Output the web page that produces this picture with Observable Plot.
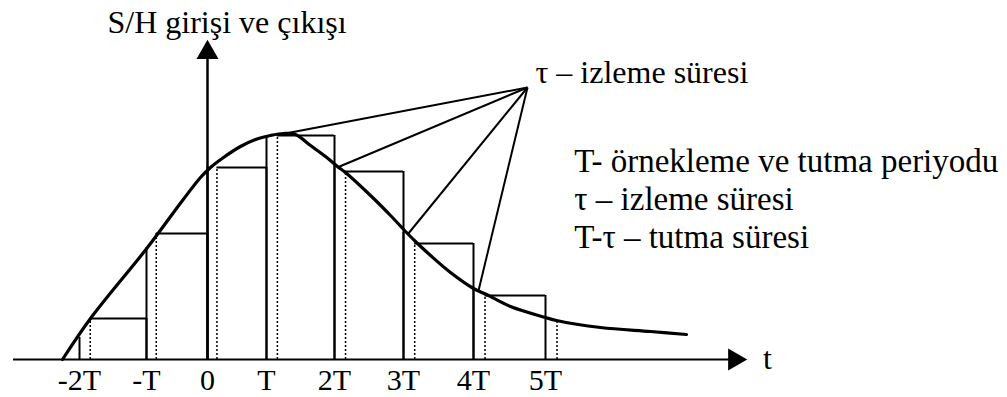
<!DOCTYPE html>
<html>
<head>
<meta charset="utf-8">
<script src="https://cdn.jsdelivr.net/npm/d3@7"></script>
<script src="https://cdn.jsdelivr.net/npm/@observablehq/plot@0.6"></script>
<style>
  html, body { margin: 0; padding: 0; background: #fff; }
  #chart svg { display: block; }
</style>
</head>
<body>
<div id="chart"></div>
<script>
// Sample-and-hold: input signal, tracked/held output, sampling instants in units of T
const samples = [-2, -1, 0, 1, 2, 3, 4, 5];
const sampleLabels = ["-2T", "-T", "0", "T", "2T", "3T", "4T", "5T"];
// input value at each sampling instant nT (top of the solid edge)
const inputAtSample = [0.22, 1.12, 1.93, 2.22, 1.94, 1.27, 0.71, 0.42];
// value held from nT+τ to (n+1)T
const heldOutput = [0.41, 1.26, 1.92, 2.24, 1.88, 1.16, 0.64, 0.39];
// tracking time τ as a fraction of T
const tau = 0.16;

// continuous S/H input
const inputT = [-2.254, -1.836, -0.984, -0.41, -0.115, 0.051, 0.271, 0.559, 0.814, 1.059,
  1.25, 1.426, 1.647, 1.868, 2.043, 2.159, 2.522, 2.812, 3.043, 3.186, 3.386, 3.671,
  4.0, 4.181, 4.514, 5.0, 5.153, 5.764, 6.458, 6.958];
const inputV = [0.0, 0.41, 1.12, 1.59, 1.82, 1.92, 2.02, 2.13, 2.2, 2.24,
  2.26, 2.25, 2.14, 2.03, 1.93, 1.87, 1.64, 1.44, 1.27, 1.17, 1.04, 0.87,
  0.71, 0.65, 0.53, 0.42, 0.39, 0.32, 0.28, 0.25];

// pointer lines from the "τ – izleme süresi" label to the tracking intervals
const pointerFrom = {t: 4.75, v: 2.72};
const pointerT = [1.2, 2.04, 3.07, 4.07];
const pointerV = [2.25, 1.92, 1.26, 0.69];

const texts = {
  yTitle: "S/H girişi ve çıkışı",
  tauLabel: "τ – izleme süresi",
  legend: ["T- örnekleme ve tutma periyodu", "τ – izleme süresi", "T-τ – tutma süresi"],
  xName: "t"
};

const input = inputT.map((t, i) => ({t, v: inputV[i]}));
const n = samples.length;
const leftEdges = samples.slice(0, n - 1).map((t, i) => ({t, v: inputAtSample[i]}));
const rightEdges = samples.slice(1).map((t, i) => ({t, v: heldOutput[i]}));
const holds = samples.slice(0, n - 1).map((t, i) => ({t1: t + tau, t2: t + 1, v: heldOutput[i]}));
const trackEnds = samples.map((t, i) => ({t: t + tau, v: heldOutput[i]}));
const pointers = pointerT.map((t, i) => ({x1: pointerFrom.t, y1: pointerFrom.v, x2: t, y2: pointerV[i]}));
const labelFor = new Map(samples.map((s, i) => [s, sampleLabels[i]]));

const font = "'Liberation Serif', 'Times New Roman', serif";

const chart = Plot.plot({
  width: 1007,
  height: 397,
  marginTop: 40,
  marginBottom: 38,
  marginLeft: 0,
  marginRight: 0,
  style: {fontFamily: font, color: "#000", background: "#fff", overflow: "visible"},
  x: {type: "linear", domain: samples, range: [79, 146, 207, 266, 334, 403, 473, 545]},
  y: {domain: [0, 3.19], range: [359, 40], axis: null},
  marks: [
    // axes with arrowheads
    Plot.ruleY([0], {x1: -2.985, x2: 7.55, stroke: "#000", strokeWidth: 2}),
    Plot.ruleX([0], {y1: 0, y2: 3.0, stroke: "#000", strokeWidth: 2.5}),
    Plot.dot([{t: 7.625, v: 0}], {x: "t", y: "v", symbol: "triangle", rotate: 90, r: 8.2, fill: "#000", stroke: "none"}),
    Plot.dot([{t: 0, v: 3.07}], {x: "t", y: "v", symbol: "triangle", r: 8.2, fill: "#000", stroke: "none"}),
    Plot.axisX(samples, {
      anchor: "bottom", tickSize: 0, tickPadding: 9, fontSize: 30, label: null,
      tickFormat: d => labelFor.get(d)
    }),
    // held output staircase
    Plot.ruleX(leftEdges, {x: "t", y1: 0, y2: "v", stroke: "#000", strokeWidth: 2}),
    Plot.ruleX(rightEdges, {x: "t", y1: 0, y2: "v", stroke: "#000", strokeWidth: 2}),
    Plot.ruleY(holds, {x1: "t1", x2: "t2", y: "v", stroke: "#000", strokeWidth: 2}),
    // end of each tracking interval (nT+τ)
    Plot.ruleX(trackEnds, {x: "t", y1: 0, y2: "v", stroke: "#000", strokeWidth: 1.5, strokeDasharray: "2 2"}),
    // input signal
    Plot.line(input, {x: "t", y: "v", curve: "catmull-rom", stroke: "#000", strokeWidth: 3.2}),
    // pointers to tracking intervals
    Plot.link(pointers, {x1: "x1", y1: "y1", x2: "x2", y2: "y2", stroke: "#000", strokeWidth: 2}),
    // labels
    Plot.text([texts.yTitle], {x: -1.582, y: 3.372, text: d => d, textAnchor: "start", lineAnchor: "middle", fontSize: 32}),
    Plot.text([texts.tauLabel], {x: 4.861, y: 2.872, text: d => d, textAnchor: "start", lineAnchor: "middle", fontSize: 32}),
    Plot.text([texts.legend.join("\n")], {x: 5.4, y: 2.147, text: d => d, textAnchor: "start", lineAnchor: "top", lineHeight: 1.15, fontSize: 33}),
    Plot.text([texts.xName], {x: 8.083, y: 0.012, text: d => d, textAnchor: "middle", lineAnchor: "middle", fontSize: 32})
  ]
});

document.getElementById("chart").appendChild(chart);
</script>
</body>
</html>
